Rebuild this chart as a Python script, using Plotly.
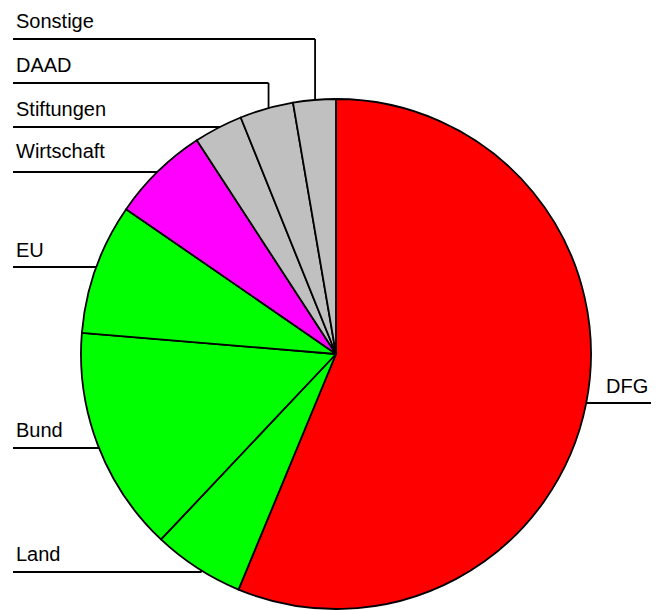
import math
import plotly.graph_objects as go

# ---- data ----
labels = ["DFG", "Land", "Bund", "EU", "Wirtschaft", "Stiftungen", "DAAD", "Sonstige"]
values = [56.3, 5.8, 14.3, 8.3, 6.2, 3.1, 3.4, 2.7]
colors = ["#FF0000", "#00FF00", "#00FF00", "#00FF00", "#FF00FF", "#C0C0C0", "#C0C0C0", "#C0C0C0"]

# ---- layout (page pixels) ----
PAGE_W, PAGE_H = 659, 610
OFF = 8  # default body margin of the html page
W, H = PAGE_W - 2 * OFF, PAGE_H - OFF
CX, CY, R = 336, 354, 255
label_line_y = {"Sonstige": 39, "DAAD": 83, "Stiftungen": 127, "Wirtschaft": 172,
                "EU": 267, "Bund": 448, "Land": 572, "DFG": 403}
label_base_y = {"Sonstige": 27.7, "DAAD": 71.7, "Stiftungen": 115.7, "Wirtschaft": 157.7,
                "EU": 256.7, "Bund": 436.7, "Land": 560.7, "DFG": 393}
LEFT_X = 13
RIGHT_X = PAGE_W - OFF
FONT = dict(family="Liberation Sans, Arial, sans-serif", size=20, color="#000000")
LINE = dict(color="#000000", width=1.8)


def px(x):
    return (x - OFF) / W


def py(y):
    return 1 - (y - OFF) / H


fig = go.Figure(go.Pie(
    labels=labels,
    values=values,
    sort=False,
    direction="clockwise",
    rotation=0,
    marker=dict(colors=colors, line=dict(color="#000000", width=1.8)),
    textinfo="none",
    hoverinfo="label+percent",
    domain=dict(x=[px(CX - R), px(CX + R)], y=[py(CY + R), py(CY - R)]),
))

shapes = []
annotations = []
total = sum(values)
cum = 0.0
for lab, v in zip(labels, values):
    mid = 2 * math.pi * (cum + v / 2) / total
    cum += v
    ax = CX + 0.97 * R * math.sin(mid)
    ay = CY - 0.97 * R * math.cos(mid)
    ly = label_line_y[lab]
    if ax < CX:
        shapes.append(dict(type="line", xref="paper", yref="paper", layer="below",
                           x0=px(LEFT_X), y0=py(ly), x1=px(ax), y1=py(ly), line=LINE))
        tx, xa = LEFT_X + 1, "left"
    else:
        shapes.append(dict(type="line", xref="paper", yref="paper", layer="below",
                           x0=px(RIGHT_X), y0=py(ly), x1=px(ax), y1=py(ly), line=LINE))
        tx, xa = RIGHT_X - 1, "right"
    shapes.append(dict(type="line", xref="paper", yref="paper", layer="below",
                       x0=px(ax), y0=py(ly), x1=px(ax), y1=py(ay), line=LINE))
    annotations.append(dict(text=lab, xref="paper", yref="paper", x=px(tx),
                            y=py(label_base_y[lab] - 7), xanchor=xa, yanchor="middle",
                            showarrow=False, font=FONT))

fig.update_layout(
    width=W, height=H,
    margin=dict(l=0, r=0, t=0, b=0),
    showlegend=False,
    paper_bgcolor="#FFFFFF",
    plot_bgcolor="#FFFFFF",
    shapes=shapes,
    annotations=annotations,
)

fig.write_html("out.html")
